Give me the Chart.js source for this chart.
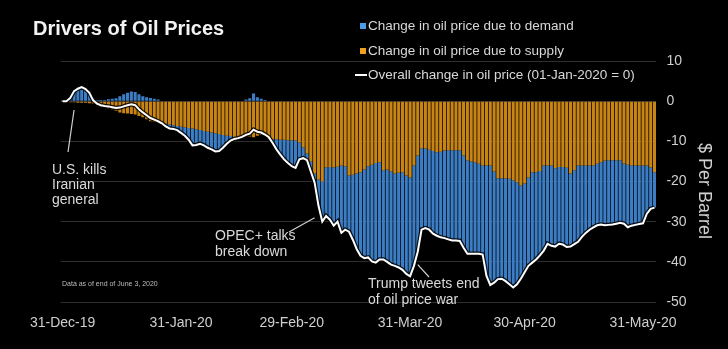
<!DOCTYPE html>
<html>
<head>
<meta charset="utf-8">
<script src="https://cdn.jsdelivr.net/npm/chart.js@4/dist/chart.umd.min.js"></script>
<style>
  html, body { margin: 0; padding: 0; background: #000; }
  #wrap { position: relative; width: 728px; height: 349px; background: #000; font-family: "Liberation Sans", Arial, sans-serif; color: #dcdcdc; overflow: hidden; }
  #wrap canvas { position: absolute; left: 0; top: 0; }
  .txt { position: absolute; white-space: nowrap; }
  .title { left: 33px; top: 17px; font-size: 20px; font-weight: bold; color: #f2f2f2; }
  .leg { left: 368px; font-size: 13.5px; line-height: 16px; color: #d8d8d8; }
  .sw { position: absolute; width: 6px; height: 6px; }
  .note { font-size: 14px; line-height: 16px; color: #dadada; }
  .small { left: 62px; top: 280px; font-size: 7px; color: #bdbdbd; }
  .ytitle { left: 694px; top: 143px; font-size: 18px; color: #d0d0d0; writing-mode: vertical-rl; }
</style>
</head>
<body>
<div id="wrap">
  <canvas id="oilChart" width="728" height="349"></canvas>
  <div class="txt title">Drivers of Oil Prices</div>
  <div class="sw" style="left:360px;top:23px;background:#4a9be8"></div>
  <div class="txt leg" style="top:18px">Change in oil price due to demand</div>
  <div class="sw" style="left:360px;top:48px;background:#f0a020"></div>
  <div class="txt leg" style="top:43px">Change in oil price due to supply</div>
  <div class="sw" style="left:355px;top:74px;width:12px;height:2px;background:#fff"></div>
  <div class="txt leg" style="top:67px">Overall change in oil price (01-Jan-2020 = 0)</div>
  <div class="txt note" style="left:52px;top:162px;line-height:15px">U.S. kills<br>Iranian<br>general</div>
  <div class="txt note" style="left:215px;top:227px">OPEC+ talks<br>break down</div>
  <div class="txt note" style="left:368px;top:275px">Trump tweets end<br>of oil price war</div>
  <div class="txt small">Data as of end of June 3, 2020</div>
  <div class="txt ytitle">$ Per Barrel</div>
</div>
<script>
// first day of the series, one bar per calendar day
const startDate = new Date(2019, 11, 31);
const tickLabels = ['31-Dec-19', '31-Jan-20', '29-Feb-20', '31-Mar-20', '30-Apr-20', '31-May-20'];
const yTicks = [10, 0, -10, -20, -30, -40, -50];

// overall change in oil price ($/bbl, 01-Jan-2020 = 0)
const overall = [
    0, 0, 0.8, 2.5, 3.1, 3.5, 3.0, 2.1, 0.2, -0.6,
    -1.0, -1.2, -1.3, -1.5, -1.7, -1.6, -1.3, -1.0, -0.8, -1.0,
    -2.0, -2.8, -3.5, -4.2, -4.6, -5.0, -5.5, -6.3, -6.8, -6.9,
    -7.2, -7.9, -8.6, -9.6, -11.0, -10.9, -10.6, -11.0, -11.6, -12.0,
    -12.5, -12.4, -11.6, -10.6, -9.8, -9.4, -9.2, -8.9, -8.4, -8.1,
    -7.1, -7.6, -7.8, -8.3, -9.0, -10.4, -12.0, -13.3, -14.5, -15.4,
    -16.2, -16.6, -14.5, -14.2, -14.7, -17.5, -20.3, -26.0, -30.0, -28.6,
    -29.5, -31.0, -30.0, -32.8, -32.0, -32.5, -34.5, -36.8, -38.5, -39.1,
    -38.9, -39.9, -40.2, -39.4, -39.4, -40.0, -40.7, -41.0, -41.4, -42.0,
    -43.0, -43.6, -41.0, -37.5, -32.0, -31.6, -32.0, -33.0, -33.5, -33.9,
    -34.1, -34.4, -34.7, -34.7, -34.8, -36.5, -38.0, -38.0, -38.0, -38.0,
    -38.2, -43.5, -45.8, -45.2, -44.3, -44.2, -44.8, -45.6, -46.4, -45.6,
    -44.2, -42.6, -41.0, -40.2, -39.4, -38.4, -37.2, -35.5, -36.0, -36.2,
    -35.5, -35.7, -36.3, -36.2, -35.6, -35.0, -33.8, -32.8, -32.0, -31.4,
    -30.9, -30.7, -30.9, -30.8, -30.7, -30.5, -30.3, -30.5, -31.4, -31.0,
    -30.8, -30.6, -30.4, -28.0, -26.8, -26.5
];

// change due to supply
const supply = [
    -0.2, -0.2, -0.3, -0.3, -0.4, -0.4, -0.4, -0.5, -0.6, -0.9,
    -1.3, -1.5, -1.8, -2.1, -2.4, -2.8, -3.0, -3.1, -3.2, -3.3,
    -3.7, -4.0, -4.5, -5.0, -5.2, -5.4, -5.5, -5.6, -5.8, -6.0,
    -6.2, -6.4, -6.5, -6.7, -6.8, -7.0, -7.2, -7.4, -7.6, -7.8,
    -8.0, -8.2, -8.4, -8.6, -8.7, -8.9, -9.0, -9.0, -8.8, -8.8,
    -9.0, -8.6, -8.4, -8.6, -9.0, -9.5, -9.5, -9.6, -9.6, -9.7,
    -9.7, -9.8, -10.3, -11.5, -13.0, -15.0, -18.0, -19.5, -20.0, -16.5,
    -16.4, -16.5, -16.3, -16.0, -16.2, -18.5, -18.3, -18.0, -17.7, -17.0,
    -16.2, -15.8, -15.4, -15.2, -17.2, -17.0, -17.5, -18.0, -17.8, -17.7,
    -18.5, -19.0, -16.0, -13.5, -11.7, -11.8, -12.1, -12.4, -12.7, -12.6,
    -12.3, -12.2, -12.2, -12.2, -12.2, -13.5, -14.7, -15.0, -15.2, -15.6,
    -16.0, -16.0, -16.0, -17.5, -19.2, -19.2, -19.2, -19.3, -19.7, -20.2,
    -21.0, -20.5, -19.0, -17.7, -17.7, -17.4, -16.0, -16.0, -16.0, -16.7,
    -16.4, -16.4, -16.6, -18.0, -17.2, -16.0, -16.0, -16.0, -16.0, -16.0,
    -15.6, -15.2, -14.8, -14.7, -14.7, -14.7, -14.7, -15.5, -15.8, -16.0,
    -16.0, -16.0, -16.0, -16.0, -16.5, -17.7
];

// change due to demand
const demand = [
    0.2, 0.2, 1.1, 2.8, 3.5, 3.9, 3.4, 2.6, 0.8, 0.3,
    0.3, 0.3, 0.5, 0.6, 0.7, 1.2, 1.7, 2.1, 2.4, 2.3,
    1.7, 1.2, 1.0, 0.8, 0.6, 0.4, 0.0, -0.7, -1.0, -0.9,
    -1.0, -1.5, -2.1, -2.9, -4.2, -3.9, -3.4, -3.6, -4.0, -4.2,
    -4.5, -4.2, -3.2, -2.0, -1.1, -0.5, -0.2, 0.1, 0.4, 0.7,
    1.9, 1.0, 0.6, 0.3, 0.0, -0.9, -2.5, -3.7, -4.9, -5.7,
    -6.5, -6.8, -4.2, -2.7, -1.7, -2.5, -2.3, -6.5, -10.0, -12.1,
    -13.1, -14.5, -13.7, -16.8, -15.8, -14.0, -16.2, -18.8, -20.8, -22.1,
    -22.7, -24.1, -24.8, -24.2, -22.2, -23.0, -23.2, -23.0, -23.6, -24.3,
    -24.5, -24.6, -25.0, -24.0, -20.3, -19.8, -19.9, -20.6, -20.8, -21.3,
    -21.8, -22.2, -22.5, -22.5, -22.6, -23.0, -23.3, -23.0, -22.8, -22.4,
    -22.2, -27.5, -29.8, -27.7, -25.1, -25.0, -25.6, -26.3, -26.7, -25.4,
    -23.2, -22.1, -22.0, -22.5, -21.7, -21.0, -21.2, -19.5, -20.0, -19.5,
    -19.1, -19.3, -19.7, -18.2, -18.4, -19.0, -17.8, -16.8, -16.0, -15.4,
    -15.3, -15.5, -16.1, -16.1, -16.0, -15.8, -15.6, -15.0, -15.6, -15.0,
    -14.8, -14.6, -14.4, -12.0, -10.3, -8.8
];

// annotation pointers: [day index, value on the line, text end x, text end y]
const pointers = [
    [3, -2.2, 68, 152],
    [66, -29.0, 289, 232],
    [93, -40.7, 429, 277]
];

const MONTHS = ['Jan', 'Feb', 'Mar', 'Apr', 'May', 'Jun', 'Jul', 'Aug', 'Sep', 'Oct', 'Nov', 'Dec'];
function fmtDate(d) {
    const dd = String(d.getDate()).padStart(2, '0');
    return dd + '-' + MONTHS[d.getMonth()] + '-' + String(d.getFullYear()).slice(2);
}

const labels = overall.map((v, i) => {
    const d = new Date(startDate);
    d.setDate(d.getDate() + i);
    return fmtDate(d);
});

// thin pointer lines from the notes to the line
const pointerPlugin = {
    id: 'pointers',
    afterDatasetsDraw(chart) {
        const {ctx, scales: {x, y}} = chart;
        ctx.save();
        ctx.strokeStyle = '#d0d0d0';
        ctx.lineWidth = 1.2;
        pointers.forEach(p => {
            ctx.beginPath();
            ctx.moveTo(x.getPixelForValue(p[0]), y.getPixelForValue(p[1]));
            ctx.lineTo(p[2], p[3]);
            ctx.stroke();
        });
        ctx.restore();
    }
};

const ctx = document.getElementById('oilChart').getContext('2d');
new Chart(ctx, {
    type: 'bar',
    data: {
        labels: labels,
        datasets: [
            {
                type: 'line',
                label: 'Overall change in oil price (01-Jan-2020 = 0)',
                data: overall,
                borderColor: '#ffffff',
                borderWidth: 2,
                pointRadius: 0,
                tension: 0,
                stack: 'line1'
            },
            {
                type: 'line',
                label: 'outline',
                data: overall,
                borderColor: 'rgba(0,0,0,0.85)',
                borderWidth: 4.5,
                pointRadius: 0,
                tension: 0,
                stack: 'line2'
            },
            {
                label: 'Change in oil price due to supply',
                data: supply,
                backgroundColor: '#c98514',
                stack: 'bars',
                categoryPercentage: 1,
                barPercentage: 0.8
            },
            {
                label: 'Change in oil price due to demand',
                data: demand,
                backgroundColor: '#3c7ec6',
                stack: 'bars',
                categoryPercentage: 1,
                barPercentage: 0.8
            }
        ]
    },
    options: {
        responsive: false,
        animation: false,
        layout: {
            padding: { left: 60.7, top: 61, right: 0, bottom: 0 }
        },
        plugins: {
            legend: { display: false },
            tooltip: { enabled: false }
        },
        scales: {
            x: {
                stacked: true,
                grid: { display: false },
                border: { display: false },
                afterFit: scale => { scale.height = 47; },
                ticks: {
                    autoSkip: false,
                    maxRotation: 0,
                    padding: 5,
                    color: '#cfcfcf',
                    font: { family: 'Liberation Sans', size: 14 },
                    callback: function (value) {
                        const lab = this.getLabelForValue(value);
                        return tickLabels.includes(lab) ? lab : '';
                    }
                }
            },
            y: {
                position: 'right',
                stacked: true,
                min: -50,
                max: 10,
                afterFit: scale => { scale.width = 71.6; },
                afterBuildTicks: scale => { scale.ticks = yTicks.map(v => ({ value: v })); },
                grid: { color: '#2e2e2e', lineWidth: 1, drawTicks: false },
                border: { display: false },
                ticks: {
                    padding: 10,
                    color: '#cfcfcf',
                    font: { family: 'Liberation Sans', size: 14 }
                }
            }
        }
    },
    plugins: [pointerPlugin]
});
</script>
</body>
</html>
